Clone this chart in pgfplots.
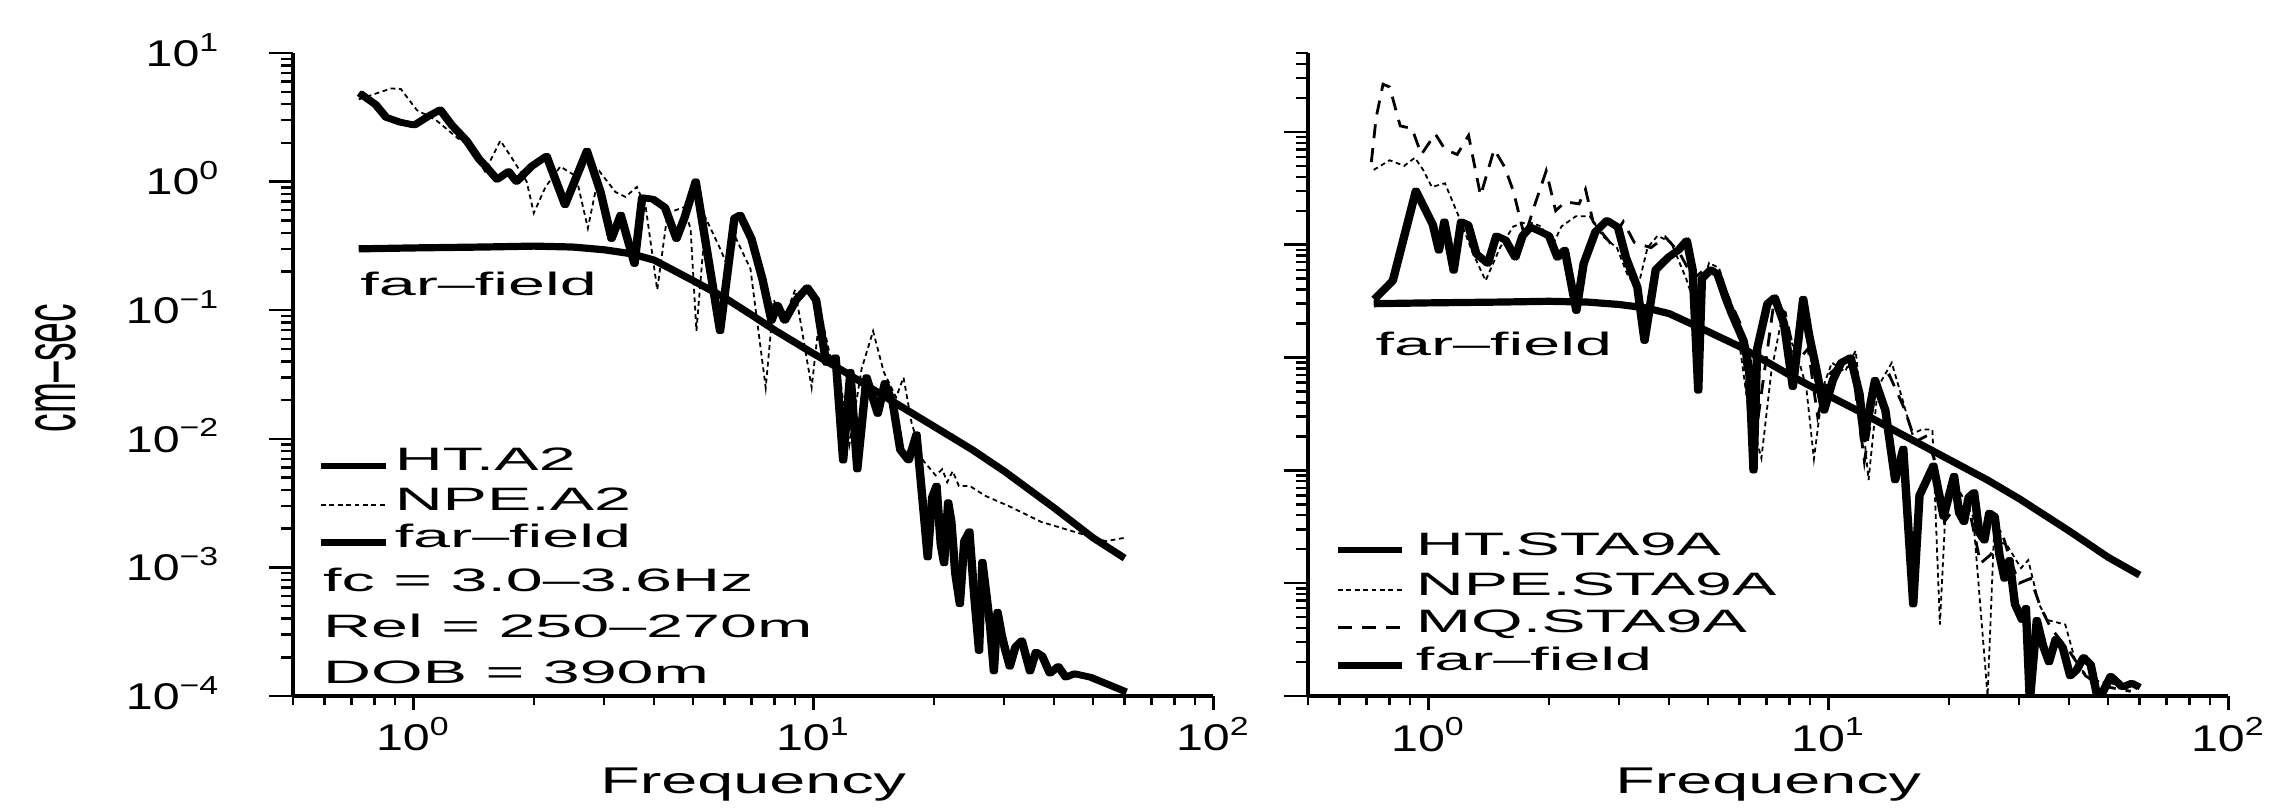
\documentclass[border=0pt]{standalone}
\usepackage{pgfplots}
\usepackage{pgfplotstable}
\usepackage{graphicx}
\usepackage{fontspec}
\pgfplotsset{compat=1.18}
\setmainfont{Liberation Sans}[FakeStretch=2.05]
\newfontfamily\axfont{Liberation Sans}[FakeStretch=1.74]
\newfontfamily\tickfont{Liberation Sans}[FakeStretch=1.3]
\newfontfamily\plainfont{Liberation Sans}
\newcommand\labfont{\fontsize{8.1bp}{9.7bp}\selectfont}
\newcommand\bigfont{\fontsize{9.3bp}{11bp}\selectfont}

\pgfplotstableread{
f v
0.73 0.30
1.0 0.305
1.5 0.31
2.0 0.315
2.5 0.31
3.0 0.295
3.5 0.275
4.0 0.245
5.0 0.17
6.0 0.125
7.0 0.092
8.0 0.07
10.0 0.046
12.0 0.033
15.0 0.0215
20.0 0.0125
25.0 0.0082
30.0 0.0056
40.0 0.0029
50.0 0.0017
60.0 0.00118
}\tabfarfield

\pgfplotstableread{
f v
0.73 4.87
0.80 3.97
0.85 3.16
0.92 2.9
1.00 2.75
1.08 3.2
1.16 3.62
1.24 2.75
1.35 2.08
1.45 1.5
1.51 1.31
1.61 1.04
1.72 1.2
1.80 1.0
1.96 1.31
2.14 1.58
2.38 0.66
2.70 1.73
2.92 0.83
3.11 0.36
3.28 0.55
3.55 0.23
3.71 0.75
3.95 0.73
4.23 0.63
4.52 0.36
4.73 0.52
5.05 1.0
5.38 0.30
5.81 0.069
6.31 0.52
6.52 0.55
6.96 0.36
7.42 0.173
7.81 0.083
8.08 0.11
8.43 0.083
9.0 0.12
9.6 0.15
10.1 0.12
10.7 0.039
11.3 0.043
11.8 0.0068
12.3 0.033
12.8 0.0058
13.5 0.030
14.4 0.0157
15.0 0.027
15.7 0.019
16.4 0.0082
17.2 0.0068
18.0 0.0108
18.8 0.0025
19.2 0.0012
19.7 0.0035
20.2 0.0043
20.7 0.0015
21.1 0.00108
21.6 0.0032
22.0 0.00226
22.5 0.0009
23.1 0.00052
23.7 0.0016
24.4 0.0019
25.1 0.0006
25.8 0.000225
26.3 0.0011
26.9 0.00062
27.5 0.00035
28.1 0.000156
28.7 0.00045
29.4 0.000297
30.1 0.00022
30.8 0.00017
31.8 0.00024
33.0 0.00027
34.6 0.000156
35.8 0.00022
37.1 0.000205
38.8 0.00015
40.7 0.00017
42.5 0.00014
44.7 0.000149
49.0 0.00014
53.9 0.000124
60 0.000108
}\tabhtA

\pgfplotstableread{
f v
0.73 4.36
0.80 4.8
0.88 5.3
0.93 5.25
1.02 3.6
1.14 3.0
1.29 2.18
1.38 1.9
1.51 1.2
1.65 2.08
1.75 1.58
1.92 1.0
2.0 0.57
2.14 0.91
2.33 1.31
2.55 1.1
2.73 0.434
2.92 1.2
3.2 0.83
3.39 0.76
3.62 0.91
3.81 0.63
4.07 0.144
4.32 0.57
4.73 0.63
4.93 0.434
5.1 0.069
5.38 0.52
5.85 0.30
6.1 0.22
6.41 0.36
6.96 0.21
7.6 0.0249
7.96 0.12
8.43 0.083
9.0 0.144
9.9 0.025
10.4 0.10
11.1 0.039
11.6 0.033
12.3 0.009
13.2 0.035
14.1 0.0687
15.0 0.033
16.1 0.021
16.8 0.030
17.6 0.0133
18.8 0.0068
20.2 0.0052
21.0 0.0058
21.6 0.0046
22.3 0.0056
23.1 0.0043
24.6 0.0043
26.9 0.0036
30.8 0.0030
37.1 0.00226
44.7 0.0019
53.9 0.0016
60 0.0017
}\tabnpeA

\pgfplotstableread{
f v
0.73 0.33
0.81 0.48
0.925 3.0
0.98 2.0
1.02 1.5
1.056 0.89
1.09 1.6
1.15 0.59
1.2 1.6
1.25 1.5
1.31 0.83
1.40 0.68
1.47 1.2
1.55 1.1
1.64 0.77
1.71 1.2
1.79 1.43
1.9 1.3
1.99 1.2
2.09 0.77
2.18 0.9
2.33 0.26
2.43 0.68
2.6 1.3
2.78 1.64
2.96 1.43
3.1 0.77
3.31 0.42
3.45 0.141
3.68 0.6
3.95 0.77
4.2 0.9
4.4 1.09
4.55 0.6
4.7 0.051
4.8 0.5
5.05 0.6
5.25 0.55
5.5 0.34
5.7 0.245
6.1 0.141
6.3 0.08
6.46 0.0100
6.6 0.12
7.0 0.3
7.3 0.34
7.7 0.20
8.1 0.055
8.6 0.33
8.9 0.157
9.3 0.075
9.7 0.034
10.2 0.063
10.7 0.09
11.3 0.10
11.9 0.047
12.2 0.019
13.0 0.063
13.8 0.034
14.6 0.0082
15.3 0.0155
16.2 0.00065
16.8 0.006
18.2 0.011
19.3 0.0039
20.5 0.0089
21.1 0.0042
21.7 0.0035
22.3 0.0058
23.0 0.0064
23.7 0.0028
24.4 0.0024
25.1 0.0042
25.9 0.0039
26.6 0.0018
27.4 0.0011
28.2 0.0016
29.1 0.00065
30.3 0.000475
31.0 0.0006
31.7 0.00009
33.0 0.00047
34.2 0.00028
35.4 0.0002
36.8 0.00032
38.3 0.00027
40.0 0.00015
41.5 0.00017
43.2 0.00022
45.0 0.00019
47.0 0.00009
50.5 0.00015
54.0 0.00012
57.0 0.00013
59.5 0.00012
}\tabhtB

\pgfplotstableread{
f v
0.73 4.6
0.80 5.6
0.87 5.0
0.925 5.9
0.97 4.6
1.02 3.25
1.1 3.5
1.19 1.79
1.29 0.85
1.39 0.48
1.51 0.94
1.63 1.45
1.77 1.6
1.92 1.45
2.03 0.94
2.15 1.45
2.34 1.79
2.53 1.79
2.74 1.17
2.96 0.94
3.14 0.55
3.33 0.4
3.53 0.94
3.74 1.2
4.04 1.05
4.41 0.5
4.67 0.27
5.03 0.69
5.33 0.62
5.9 0.2
6.3 0.036
6.8 0.0128
7.2 0.075
7.6 0.2
8.3 0.115
8.8 0.055
9.2 0.0126
9.7 0.055
10.2 0.09
11.0 0.075
11.7 0.115
12.6 0.0082
13.3 0.055
14.4 0.09
15.3 0.043
16.2 0.021
17.1 0.023
18.2 0.023
19.0 0.00043
19.7 0.0057
21.4 0.0063
23.0 0.0039
25.0 0.0001
25.9 0.0024
27.9 0.0022
30.3 0.00136
31.6 0.0016
33.6 0.00065
35.4 0.00047
39.1 0.00043
41.5 0.0002
45.0 0.00014
50.5 0.00013
57.0 0.00012
}\tabnpeB

\pgfplotstableread{
f v
0.72 5.4
0.74 13.3
0.77 26.4
0.80 25
0.85 11.3
0.91 10.7
0.96 6.3
1.04 9.6
1.10 7.0
1.18 6.3
1.26 9.3
1.35 2.72
1.46 7.0
1.55 4.9
1.63 3.0
1.74 1.17
1.84 2.2
1.97 4.5
2.08 2.0
2.2 2.4
2.38 2.3
2.47 3.1
2.58 1.6
2.84 1.05
3.07 1.6
3.27 1.05
3.6 0.94
3.91 1.17
4.24 0.85
4.6 0.5
4.95 0.62
5.36 0.5
6.06 0.19
6.46 0.0126
6.8 0.048
7.3 0.3
7.8 0.25
8.3 0.09
8.9 0.12
9.4 0.03
10.0 0.07
10.8 0.09
11.5 0.08
12.3 0.012
13.2 0.06
14.2 0.07
15.5 0.035
16.5 0.018
17.5 0.02
18.5 0.012
19.5 0.0035
21.0 0.005
22.5 0.0045
24.0 0.0015
25.5 0.0018
27.0 0.0030
28.5 0.0016
30.0 0.001
32.0 0.0011
34.0 0.0006
36.0 0.0004
40.0 0.00025
44.0 0.00015
50.0 0.00012
57.0 0.00011
}\tabmqB

\tikzset{
  htline/.style={black, line width=1.6bp, line join=round},
  ffline/.style={black, line width=1.8bp, line join=round},
  npeline/.style={black, line width=0.45bp, dash pattern=on 1.2bp off 0.9bp},
  mqline/.style={black, line width=0.7bp, dash pattern=on 3.5bp off 2.5bp},
  labnode/.style={anchor=base west, font=\labfont, inner sep=0pt},
}

\begin{document}
\begin{tikzpicture}
\useasboundingbox (0,0) rectangle (569bp,203bp);

\begin{axis}[
  xmode=log, ymode=log,
  scale only axis, width=230.1bp, height=160.75bp,
  at={(73.25bp,29bp)}, anchor=south west,
  xmin=0.5, xmax=100, ymin=1e-4, ymax=10,
  axis lines*=left,
  axis line style={line width=0.9bp},
  tick align=outside,
  major tick length=6bp, minor tick length=2.9bp,
  tick style={line width=0.6bp, black},
  xtick style={/pgfplots/major tick length=3.5bp, /pgfplots/minor tick length=2.25bp},
  xtick={1,10,100},
  xticklabels={10\textsuperscript{0},10\textsuperscript{1},10\textsuperscript{2}},
  minor xtick={0.5,0.6,0.7,0.8,0.9,2,3,4,5,6,7,8,9,20,30,40,50,60,70,80,90},
  ytick={1e-4,1e-3,1e-2,1e-1,1,10},
  yticklabels={10\textsuperscript{−4},10\textsuperscript{−3},10\textsuperscript{−2},10\textsuperscript{−1},10\textsuperscript{0},10\textsuperscript{1}},
  minor ytick={2e-4,3e-4,4e-4,5e-4,6e-4,7e-4,8e-4,9e-4,2e-3,3e-3,4e-3,5e-3,6e-3,7e-3,8e-3,9e-3,0.02,0.03,0.04,0.05,0.06,0.07,0.08,0.09,0.2,0.3,0.4,0.5,0.6,0.7,0.8,0.9,2,3,4,5,6,7,8,9},
  tick label style={font=\tickfont\bigfont, inner sep=0pt},
  xticklabel style={anchor=base, yshift=-7.75bp},
  yticklabel style={anchor=base east, xshift=-12bp, yshift=-3.34bp},
  xlabel={Frequency},
  xlabel style={font=\axfont\bigfont, at={(axis description cs:0.5,-0.1509)}, anchor=base},
  ylabel={\scalebox{1}[2.0]{\plainfont\bigfont cm–sec}},
  ylabel style={at={(axis description cs:-0.2575,0.51)}, anchor=center},
]
\addplot[npeline] table[x=f,y=v] {\tabnpeA};
\addplot[htline] table[x=f,y=v] {\tabhtA};
\addplot[htline, xshift=0.5bp] table[x=f,y=v] {\tabhtA};
\addplot[ffline] table[x=f,y=v] {\tabfarfield};
\node[labnode] at (axis cs:0.734,0.13) {far–field};
\draw[htline] (axis description cs:0.0304,0.358) -- (axis description cs:0.101,0.358);
\node[labnode] at (axis description cs:0.1097,0.350) {HT.A2};
\draw[npeline] (axis description cs:0.0304,0.297) -- (axis description cs:0.101,0.297);
\node[labnode] at (axis description cs:0.1097,0.289) {NPE.A2};
\draw[ffline] (axis description cs:0.0304,0.239) -- (axis description cs:0.101,0.239);
\node[labnode] at (axis description cs:0.1097,0.231) {far–field};
\node[labnode] at (axis description cs:0.032,0.162) {fc = 3.0–3.6Hz};
\node[labnode] at (axis description cs:0.032,0.091) {Rel = 250–270m};
\node[labnode] at (axis description cs:0.032,0.0187) {DOB = 390m};
\end{axis}

\begin{axis}[
  xmode=log, ymode=log,
  scale only axis, width=230.1bp, height=160.75bp,
  at={(327bp,29bp)}, anchor=south west,
  xmin=0.5, xmax=100, ymin=1e-4, ymax=50,
  axis lines*=left,
  axis line style={line width=0.9bp},
  tick align=outside,
  major tick length=6bp, minor tick length=2.9bp,
  tick style={line width=0.6bp, black},
  xtick style={/pgfplots/major tick length=3.5bp, /pgfplots/minor tick length=2.25bp},
  xtick={1,10,100},
  xticklabels={10\textsuperscript{0},10\textsuperscript{1},10\textsuperscript{2}},
  minor xtick={0.5,0.6,0.7,0.8,0.9,2,3,4,5,6,7,8,9,20,30,40,50,60,70,80,90},
  ytick={1e-4,1e-3,1e-2,1e-1,1,10},
  yticklabels={},
  minor ytick={2e-4,3e-4,4e-4,5e-4,6e-4,7e-4,8e-4,9e-4,2e-3,3e-3,4e-3,5e-3,6e-3,7e-3,8e-3,9e-3,0.02,0.03,0.04,0.05,0.06,0.07,0.08,0.09,0.2,0.3,0.4,0.5,0.6,0.7,0.8,0.9,2,3,4,5,6,7,8,9,20,30,40,50},
  tick label style={font=\tickfont\bigfont, inner sep=0pt},
  xticklabel style={anchor=base, yshift=-7.75bp},
  xlabel={Frequency},
  xlabel style={font=\axfont\bigfont, at={(axis description cs:0.5,-0.1509)}, anchor=base},
]
\addplot[mqline] table[x=f,y=v] {\tabmqB};
\addplot[npeline] table[x=f,y=v] {\tabnpeB};
\addplot[htline] table[x=f,y=v] {\tabhtB};
\addplot[htline, xshift=0.5bp] table[x=f,y=v] {\tabhtB};
\addplot[ffline] table[x=f,y=v] {\tabfarfield};
\node[labnode] at (axis cs:0.735,0.104) {far–field};
\draw[htline] (axis description cs:0.0326,0.227) -- (axis description cs:0.1021,0.227);
\node[labnode] at (axis description cs:0.1163,0.219) {HT.STA9A};
\draw[npeline] (axis description cs:0.0326,0.165) -- (axis description cs:0.1021,0.165);
\node[labnode] at (axis description cs:0.1163,0.157) {NPE.STA9A};
\draw[mqline] (axis description cs:0.0326,0.106) -- (axis description cs:0.1021,0.106);
\node[labnode] at (axis description cs:0.1163,0.098) {MQ.STA9A};
\draw[ffline] (axis description cs:0.0326,0.048) -- (axis description cs:0.1021,0.048);
\node[labnode] at (axis description cs:0.1163,0.0404) {far–field};
\end{axis}
\end{tikzpicture}
\end{document}
